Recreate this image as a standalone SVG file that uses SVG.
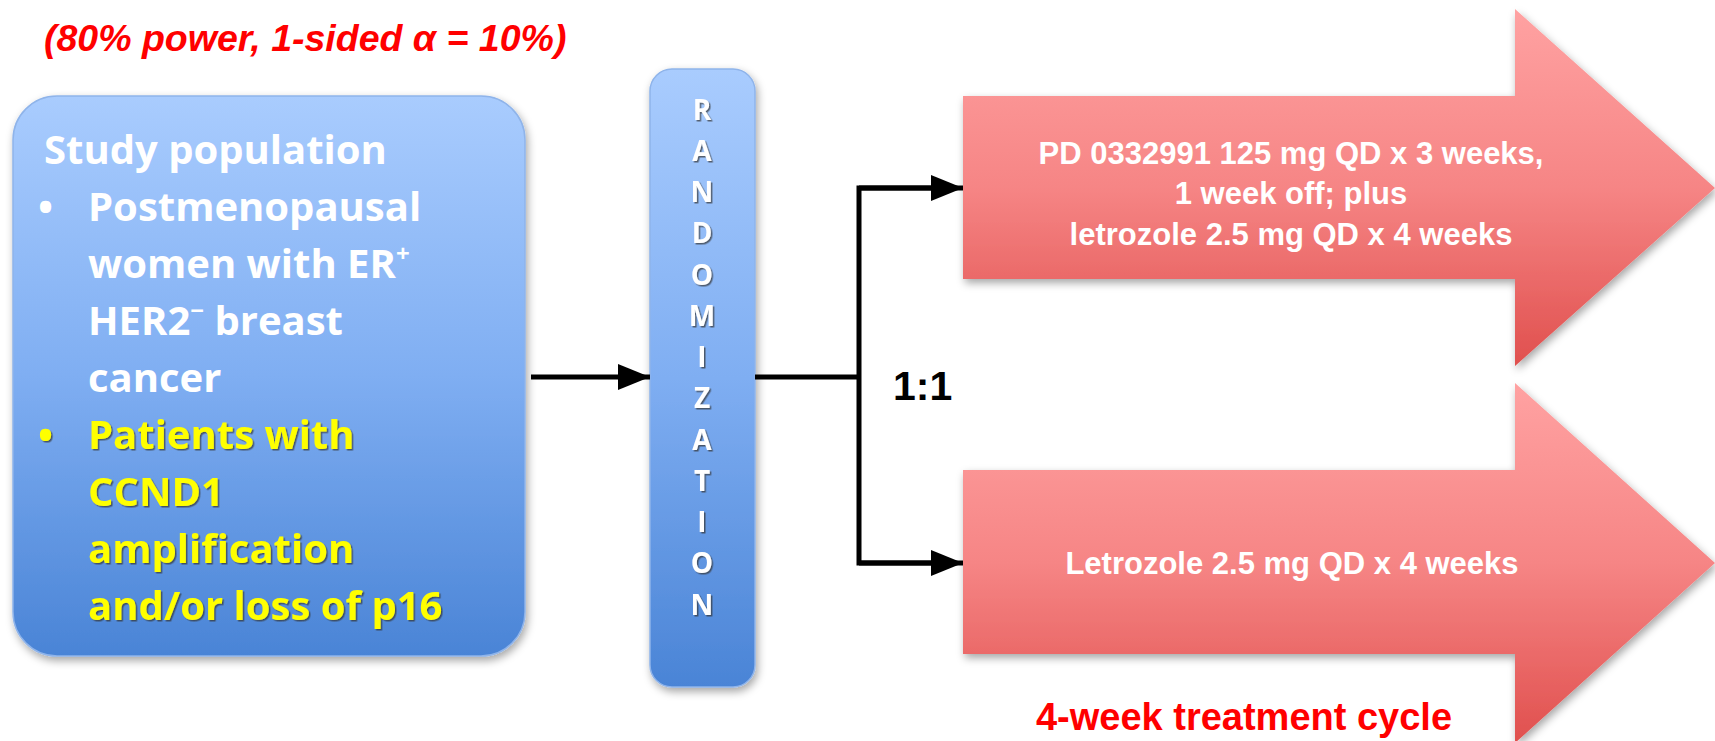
<svg xmlns="http://www.w3.org/2000/svg" width="1715" height="741" viewBox="0 0 1715 741">
<defs>
<linearGradient id="blueG" x1="0" y1="0" x2="0" y2="1">
<stop offset="0" stop-color="#A9CCFE"/>
<stop offset="0.5" stop-color="#7FAEF2"/>
<stop offset="1" stop-color="#4A84D6"/>
</linearGradient>
<linearGradient id="redG" x1="0" y1="0" x2="0" y2="1">
<stop offset="0" stop-color="#FFA2A2"/>
<stop offset="0.5" stop-color="#F68585"/>
<stop offset="1" stop-color="#E0504E"/>
</linearGradient>
<filter id="shadow" x="-10%" y="-10%" width="130%" height="130%">
<feDropShadow dx="2" dy="4" stdDeviation="4" flood-color="#000" flood-opacity="0.35"/>
</filter>
<filter id="tshadow" x="-5%" y="-20%" width="110%" height="150%">
<feDropShadow dx="1.5" dy="1.5" stdDeviation="0.6" flood-color="#333" flood-opacity="0.7"/>
</filter>
<marker id="ah" viewBox="0 0 32 26" refX="32" refY="13" markerWidth="32" markerHeight="26" markerUnits="userSpaceOnUse" orient="auto">
<path d="M0,0 L32,13 L0,26 Z" fill="#000"/>
</marker>
<style>
.pop{font-family:"Open Sans","Liberation Sans",sans-serif;font-weight:bold;font-size:40px;fill:#fff}
.yel{fill:#FFFF00}
.rnd{font-family:"Open Sans","Liberation Sans",sans-serif;font-weight:bold;font-size:28px;fill:#fff;text-anchor:middle}
.arm{font-family:"Liberation Sans",sans-serif;font-weight:bold;font-size:31px;fill:#fff;text-anchor:middle}
.red{font-family:"Liberation Sans",sans-serif;font-weight:bold;fill:#FF0000}
.con{fill:none;stroke:#000;stroke-width:5}
</style>
</defs>
<rect width="1715" height="741" fill="#fff"/>

<text class="red" x="44" y="51" font-size="37.5" font-style="italic">(80% power, 1-sided α = 10%)</text>

<g id="population">
<rect x="13" y="96" width="512" height="560" rx="44" fill="url(#blueG)" stroke="#8FB4EA" stroke-width="1.5" filter="url(#shadow)"/>
<text class="pop" x="44" y="164">Study population</text>
<text class="pop" x="38" y="221">•</text>
<text class="pop" x="88" y="221">Postmenopausal</text>
<text class="pop" x="88" y="278">women with ER<tspan font-size="24" dy="-16">+</tspan></text>
<text class="pop" x="88" y="335">HER2<tspan font-size="24" dy="-16">−</tspan><tspan dy="16"> breast</tspan></text>
<text class="pop" x="88" y="392">cancer</text>
<g filter="url(#tshadow)">
<text class="pop yel" x="38" y="449">•</text>
<text class="pop yel" x="88" y="449">Patients with</text>
<text class="pop yel" x="88" y="506">CCND1</text>
<text class="pop yel" x="88" y="563">amplification</text>
<text class="pop yel" x="88" y="620">and/or loss of p16</text>
</g>
</g>

<g id="randomization">
<rect x="650" y="69" width="105" height="618" rx="22" fill="url(#blueG)" stroke="#8FB4EA" stroke-width="1.5" filter="url(#shadow)"/>
<g filter="url(#tshadow)">
<text class="rnd" x="702" y="120">R</text>
<text class="rnd" x="702" y="161">A</text>
<text class="rnd" x="702" y="202">N</text>
<text class="rnd" x="702" y="243">D</text>
<text class="rnd" x="702" y="285">O</text>
<text class="rnd" x="702" y="326">M</text>
<text class="rnd" x="702" y="367">I</text>
<text class="rnd" x="702" y="408">Z</text>
<text class="rnd" x="702" y="450">A</text>
<text class="rnd" x="702" y="491">T</text>
<text class="rnd" x="702" y="532">I</text>
<text class="rnd" x="702" y="573">O</text>
<text class="rnd" x="702" y="615">N</text>
</g>
</g>

<g id="arm1">
<path d="M963,96 L1515,96 L1515,9 L1715,188 L1515,366 L1515,279 L963,279 Z" fill="url(#redG)" filter="url(#shadow)"/>
<text class="arm" x="1291" y="164">PD 0332991 125 mg QD x 3 weeks,</text>
<text class="arm" x="1291" y="204">1 week off; plus</text>
<text class="arm" x="1291" y="245">letrozole 2.5 mg QD x 4 weeks</text>
</g>

<g id="arm2">
<path d="M963,470 L1515,470 L1515,383 L1715,563 L1515,743 L1515,654 L963,654 Z" fill="url(#redG)" filter="url(#shadow)"/>
<text class="arm" x="1292" y="574">Letrozole 2.5 mg QD x 4 weeks</text>
</g>

<g id="connectors">
<line class="con" x1="531" y1="377" x2="650" y2="377" marker-end="url(#ah)"/>
<polyline class="con" points="755,377 859,377"/>
<polyline class="con" points="935,188 859,188 859,563 935,563"/>
<line class="con" x1="859" y1="188" x2="963" y2="188" marker-end="url(#ah)"/>
<line class="con" x1="859" y1="563" x2="963" y2="563" marker-end="url(#ah)"/>
</g>

<text x="893" y="400" font-family="Liberation Sans, sans-serif" font-weight="bold" font-size="41" fill="#000">1:1</text>
<text class="red" x="1244" y="730" font-size="38" text-anchor="middle">4-week treatment cycle</text>
</svg>
